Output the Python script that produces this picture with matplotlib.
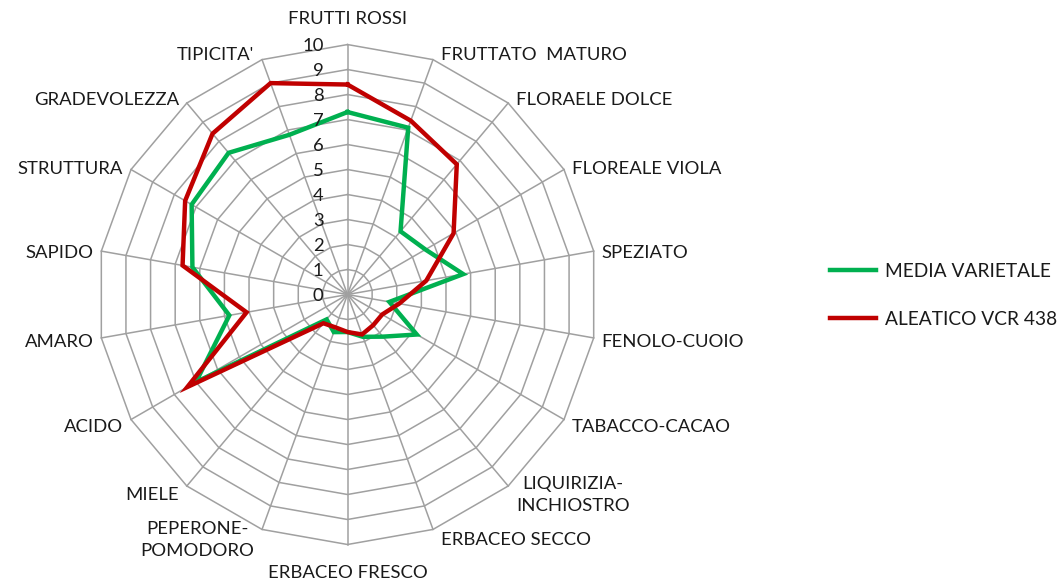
import numpy as np
import matplotlib
matplotlib.use("Agg")
import matplotlib.pyplot as plt
from matplotlib.lines import Line2D

plt.rcParams['font.family'] = ['Lato', 'DejaVu Sans']

# categorie (in senso orario a partire dall'alto)
categories = ["FRUTTI ROSSI", "FRUTTATO  MATURO", "FLORAELE DOLCE", "FLOREALE VIOLA",
              "SPEZIATO", "FENOLO-CUOIO", "TABACCO-CACAO", "LIQUIRIZIA-\nINCHIOSTRO",
              "ERBACEO SECCO", "ERBACEO FRESCO", "PEPERONE-\nPOMODORO", "MIELE",
              "ACIDO", "AMARO", "SAPIDO", "STRUTTURA", "GRADEVOLEZZA", "TIPICITA'"]

media_varietale = [7.3, 7.1, 3.3, 3.6, 4.7, 1.7, 3.2, 2.2, 1.8,
                   1.5, 1.6, 1.3, 7.0, 4.8, 6.3, 7.2, 7.4, 6.8]
aleatico_vcr438 = [8.4, 7.4, 6.8, 4.9, 3.2, 2.1, 1.6, 1.6, 1.7,
                   1.5, 1.4, 1.5, 7.4, 4.1, 6.7, 7.5, 8.4, 9.0]

series_names = ["MEDIA VARIETALE", "ALEATICO VCR 438"]
series_colors = ["#00b050", "#c00000"]
r_ticks = list(range(0, 11))

n = len(categories)
theta = np.linspace(0, 2 * np.pi, n, endpoint=False)
theta_closed = np.append(theta, theta[0])

fig = plt.figure(figsize=(10.59, 5.8), dpi=100)
ax = fig.add_axes([0.0921, 0.0612, 0.4721, 0.862], projection='polar')
ax.set_theta_zero_location('N')
ax.set_theta_direction(-1)
ax.set_ylim(0, 10)
ax.grid(False)
ax.spines['polar'].set_visible(False)
ax.set_xticks([])
ax.set_yticks([])
ax.patch.set_alpha(0)

grid_col = "#a0a0a0"
fs = 13.3
txt_col = '#1a1a1a'

# anelli poligonali
for r in r_ticks[1:]:
    ax.plot(theta_closed, [r] * (n + 1), color=grid_col, lw=1.1, zorder=1, clip_on=False)
# raggi
for t in theta:
    ax.plot([t, t], [0, 10], color=grid_col, lw=1.1, zorder=1, clip_on=False)

# serie
for vals, col in zip([media_varietale, aleatico_vcr438], series_colors):
    v = np.append(vals, vals[0])
    ax.plot(theta_closed, v, color=col, lw=3.2, zorder=3, clip_on=False,
            solid_joinstyle='miter')

# etichette scala
for r in r_ticks:
    ax.annotate(str(r), xy=(0, r), xytext=(-24, -1), textcoords='offset pixels',
                ha='right', va='center', fontsize=fs, color=txt_col,
                annotation_clip=False)

# etichette categorie
for t, lab in zip(theta, categories):
    s, c = np.sin(t), np.cos(t)
    if abs(s) < 0.01:
        if c > 0:
            ax.annotate(lab, xy=(t, 10), xytext=(0, 18), textcoords='offset pixels',
                        ha='center', va='bottom', fontsize=fs, color=txt_col,
                        annotation_clip=False)
        else:
            ax.annotate(lab, xy=(t, 10), xytext=(0, -20), textcoords='offset pixels',
                        ha='center', va='top', fontsize=fs, color=txt_col,
                        annotation_clip=False)
        continue
    dx = 8 if s > 0 else -8
    dy = 8 * c - 3
    ax.annotate(lab, xy=(t, 10), xytext=(dx, dy), textcoords='offset pixels',
                ha='left' if s > 0 else 'right', va='center', fontsize=fs,
                color=txt_col, multialignment='center', linespacing=1.45,
                annotation_clip=False)

handles = [Line2D([], [], color=c, lw=3.2) for c in series_colors]
fig.legend(handles, series_names, loc='center left', bbox_to_anchor=(0.7838, 0.4905),
           frameon=False, fontsize=13.8, handlelength=2.4, handletextpad=0.45,
           labelspacing=1.6, borderpad=0, borderaxespad=0, labelcolor=txt_col)

fig.savefig("out.png", dpi=100)
